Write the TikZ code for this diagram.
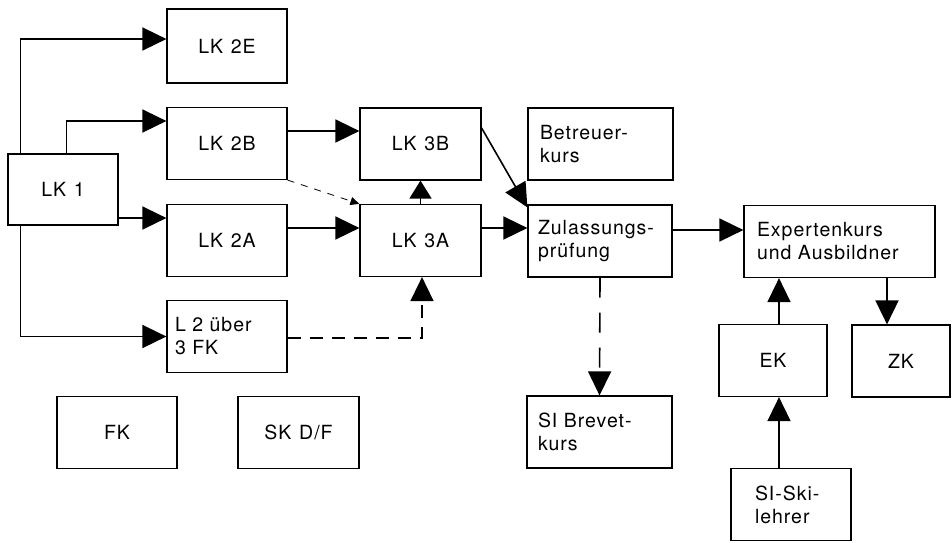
\documentclass[tikz,border=0pt]{standalone}
\usepackage{fontspec}
\setmainfont{TeX Gyre Heros}[LetterSpace=5]
\usetikzlibrary{arrows.meta}
\tikzset{
  box/.style={draw, line width=1.2pt, minimum height=72pt, inner sep=0pt,
    font={\fontsize{19.5}{23}\selectfont\spaceskip=.4em\relax}},
  lbox/.style 2 args={box, align=left, text width=#1, inner xsep=#2},
  arr/.style={line width=1.6pt, -{Triangle[length=24pt,width=23pt]}},
  arrs/.style={line width=1.6pt, -{Triangle[length=18pt,width=22pt]}},
  dashA/.style={arr, dash pattern=on 13pt off 9pt},
  dashB/.style={arr, dash pattern=on 20pt off 15pt},
  dashC/.style={line width=0.8pt, dash pattern=on 7pt off 7pt, -{Triangle[length=9pt,width=8pt]}}
}
\begin{document}
\begin{tikzpicture}[x=1pt,y=-1pt]
\useasboundingbox (0,0) rectangle (952,542);
% boxes
\node[box, minimum width=110pt, minimum height=71pt] (LK1) at (63,189.5) {LK 1};
\node[box, minimum width=120pt, minimum height=74pt] (LK2E) at (227,46) {LK 2E};
\node[box, minimum width=120pt] (LK2B) at (227,143.5) {LK 2B};
\node[box, minimum width=120pt] (LK2A) at (227,240.5) {LK 2A};
\node[lbox={104pt}{8pt}] (L2) at (227,336.5) {L 2 über\\3 FK};
\node[box, minimum width=120pt] (FK) at (117,432.5) {FK};
\node[box, minimum width=121pt] (SK) at (298.5,432.5) {SK D/F};
\node[box, minimum width=121pt] (LK3B) at (420.5,144) {LK 3B};
\node[box, minimum width=121pt] (LK3A) at (420.5,240.5) {LK 3A};
\node[lbox={121pt}{12pt}] (Bet) at (600.5,144) {Betreuer-\\kurs};
\node[lbox={124pt}{10pt}] (Zul) at (600,241) {Zulassungs-\\prüfung};
\node[lbox={123pt}{11pt}] (SIB) at (599.5,432) {SI Brevet-\\kurs};
\node[lbox={165pt}{13pt}] (Exp) at (839.5,241.5) {Expertenkurs\\und Ausbildner};
\node[box, minimum width=108pt] (EK) at (773,360.5) {EK};
\node[box, minimum width=98pt] (ZK) at (901,361) {ZK};
\node[lbox={72pt}{24pt}] (SISki) at (791,504.5) {SI-Ski-\\lehrer};
% connectors
\draw[arr] ([xshift=13pt]LK1.north west) |- ([yshift=7pt]LK2E.west);
\draw[arr] ([xshift=59pt]LK1.north west) |- ([yshift=22.5pt]LK2B.west);
\coordinate (a1) at ([yshift=22.5pt]LK2A.west);
\draw[arr] (LK1.east |- a1) -- (a1);
\draw[arr] ([xshift=13pt]LK1.south west) |- (L2.west);
\coordinate (b1) at ([yshift=13pt]LK3B.west);
\draw[arr] (LK2B.east |- b1) -- (b1);
\coordinate (b2) at ([yshift=12.5pt]LK2A.east);
\draw[arr] (b2) -- (LK3A.west |- b2);
\draw[arrs] (LK3A.north) -- (LK3B.south);
\draw[arr] ([yshift=16pt]LK3B.east) -- ([yshift=-3pt]Zul.north west);
\coordinate (z1) at ([yshift=13pt]Zul.west);
\draw[arr] (LK3A.east |- z1) -- (z1);
\coordinate (e1) at ([yshift=11.5pt]Exp.west);
\draw[arr] (Zul.east |- e1) -- (e1);
\coordinate (k1) at ([xshift=-14pt]ZK.north);
\draw[arr] (Exp.south -| k1) -- (k1);
\coordinate (x1) at ([xshift=6pt]EK.north);
\draw[arr] (x1) -- (Exp.south -| x1);
\coordinate (x2) at ([xshift=6pt]EK.south);
\draw[arr] (SISki.north -| x2) -- (x2);
\draw[dashB] (Zul.south) -- (SIB.north);
\draw[dashA] ([yshift=-1.5pt]L2.east) -| ([xshift=1.5pt]LK3A.south);
\draw[dashC] (LK2B.south east) -- (LK3A.north west);
\end{tikzpicture}
\end{document}
